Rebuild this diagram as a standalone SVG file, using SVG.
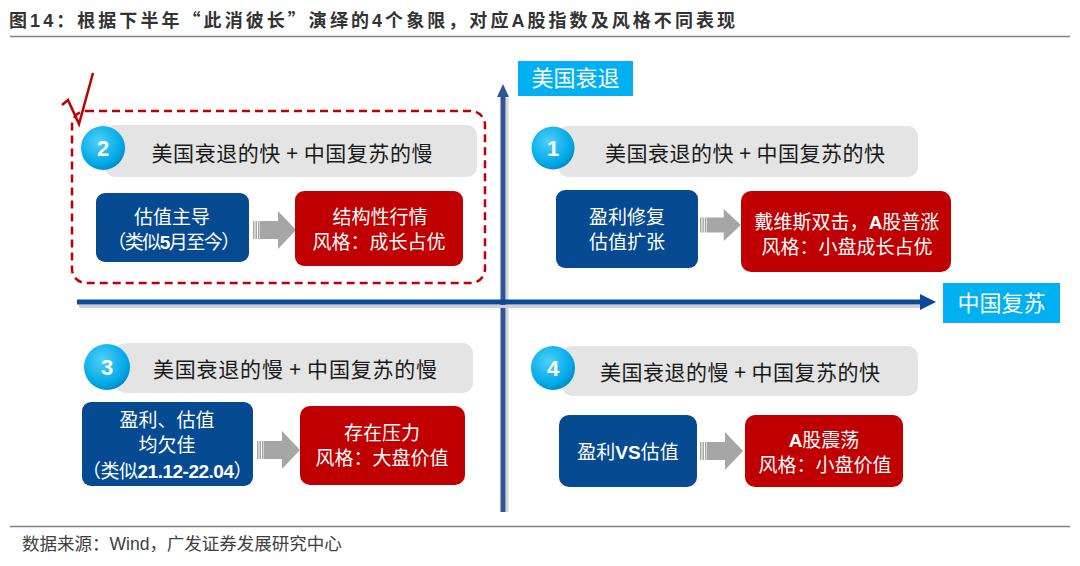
<svg xmlns="http://www.w3.org/2000/svg" xmlns:xlink="http://www.w3.org/1999/xlink" width="1080" height="566" viewBox="0 0 1080 566">
<style>
.t{font-family:"Noto Sans CJK SC","Liberation Sans",sans-serif}
.lat{font-family:"Liberation Sans",sans-serif;font-weight:bold}
.hdr{font-size:21px;fill:#1a1a1a;text-anchor:middle}
.bx{font-size:19px;fill:#ffffff;text-anchor:middle}
.bar{fill:#E4E4E4}
.blue{fill:#064A91}
.red{fill:#C00000}
.num{font-family:"Liberation Sans",sans-serif;font-weight:bold;font-size:22px;fill:#ffffff;text-anchor:middle}
.lbl{fill:#00B0F0}
.lbltxt{font-size:22px;fill:#ffffff;text-anchor:middle}
.garr{fill:#A6A6A6}
</style>
<defs>
<radialGradient id="cg" cx="0.4" cy="0.35" r="0.7">
<stop offset="0" stop-color="#4FD0F8"/>
<stop offset="0.75" stop-color="#00A8E8"/>
<stop offset="1" stop-color="#0086C0"/>
</radialGradient>
<g id="garrow" class="garr">
<rect x="0" y="10" width="1.5" height="18"/>
<rect x="2.5" y="10" width="1.5" height="18"/>
<rect x="5" y="10" width="1.5" height="18"/>
<polygon points="7,10 25,10 25,0 43,19 25,38 25,28 7,28"/>
</g>
</defs>
<rect width="1080" height="566" fill="#ffffff"/>

<!-- title -->
<g id="title">
<text class="t" x="9" y="27" font-size="18" font-weight="bold" fill="#333333" textLength="726" lengthAdjust="spacing">图<tspan class="lat">14</tspan>：根据下半年“此消彼长”演绎的<tspan class="lat">4</tspan>个象限，对应<tspan class="lat">A</tspan>股指数及风格不同表现</text>
<line x1="10" y1="36.5" x2="1070" y2="36.5" stroke="#808080" stroke-width="1.5"/>
</g>

<!-- connectors: axes and gray arrows -->
<g id="connectors">
<line x1="507" y1="98" x2="507" y2="512" stroke="#D6D6D6" stroke-width="3"/>
<line x1="503" y1="95" x2="503" y2="512" stroke="#2F5597" stroke-width="5"/>
<polygon points="503,84 509,97 497,97" fill="#2F5597"/>
<line x1="79" y1="306.5" x2="921" y2="306.5" stroke="#D0D0D0" stroke-width="3"/>
<line x1="77" y1="302" x2="922" y2="302" stroke="#0B4A94" stroke-width="5"/>
<polygon points="936,302 920,294 920,310" fill="#0B4A94"/>
<use xlink:href="#garrow" transform="translate(253,211)"/>
<use xlink:href="#garrow" transform="translate(700,209) scale(0.95,0.84)"/>
<use xlink:href="#garrow" transform="translate(257,431)"/>
<use xlink:href="#garrow" transform="translate(700,432)"/>
</g>

<!-- axis labels -->
<g id="label-us">
<rect class="lbl" x="518" y="61" width="115" height="35"/>
<text class="t lbltxt" x="575.5" y="86">美国衰退</text>
</g>
<g id="label-cn">
<rect class="lbl" x="943" y="283" width="117" height="40"/>
<text class="t lbltxt" x="1001.5" y="311">中国复苏</text>
</g>

<!-- quadrant 2 -->
<g id="q2">
<rect x="72" y="111" width="413" height="172" rx="14" fill="none" stroke="#C00000" stroke-width="2.5" stroke-dasharray="8 5"/>
<polyline points="62,105 68,100 79,124 93,73" fill="none" stroke="#C00000" stroke-width="2.5" stroke-linejoin="miter"/>
<rect class="bar" x="105" y="125" width="372" height="52" rx="10"/>
<circle cx="103" cy="148" r="22" fill="url(#cg)"/>
<text class="num" x="103" y="156">2</text>
<text class="t hdr" x="292" y="161" textLength="281" lengthAdjust="spacing">美国衰退的快 + 中国复苏的慢</text>
</g>
<g id="q2-blue">
<rect class="blue" x="96" y="193" width="153" height="69" rx="9"/>
<text class="t bx" x="172" y="224">估值主导</text>
<text class="t bx" x="173" y="249" font-size="17" letter-spacing="-1.5">（类似<tspan class="lat">5</tspan>月至今）</text>
</g>
<g id="q2-red">
<rect class="red" x="295" y="191" width="168" height="75" rx="9"/>
<text class="t bx" x="380" y="224">结构性行情</text>
<text class="t bx" x="379" y="249">风格：成长占优</text>
</g>

<!-- quadrant 1 -->
<g id="q1">
<rect class="bar" x="558" y="126" width="360" height="51" rx="10"/>
<circle cx="553" cy="148" r="21.5" fill="url(#cg)"/>
<text class="num" x="553" y="156">1</text>
<text class="t hdr" x="745" y="161" textLength="280" lengthAdjust="spacing">美国衰退的快 + 中国复苏的快</text>
</g>
<g id="q1-blue">
<rect class="blue" x="556" y="190" width="142" height="78" rx="9"/>
<text class="t bx" x="627" y="224">盈利修复</text>
<text class="t bx" x="627" y="249">估值扩张</text>
</g>
<g id="q1-red">
<rect class="red" x="741" y="191" width="210" height="81" rx="10"/>
<text class="t bx" x="847" y="229">戴维斯双击，<tspan class="lat">A</tspan>股普涨</text>
<text class="t bx" x="847" y="254">风格：小盘成长占优</text>
</g>

<!-- quadrant 3 -->
<g id="q3">
<rect class="bar" x="115" y="343" width="358" height="50" rx="10"/>
<circle cx="107" cy="367" r="23" fill="url(#cg)"/>
<text class="num" x="107" y="375">3</text>
<text class="t hdr" x="295" y="377" textLength="284" lengthAdjust="spacing">美国衰退的慢 + 中国复苏的慢</text>
</g>
<g id="q3-blue">
<rect class="blue" x="82" y="402" width="171" height="84" rx="9"/>
<text class="t bx" x="167" y="427">盈利、估值</text>
<text class="t bx" x="167" y="452">均欠佳</text>
<text class="t bx" x="167" y="478" font-size="16" letter-spacing="-0.5">（类似<tspan class="lat">21.12-22.04</tspan>）</text>
</g>
<g id="q3-red">
<rect class="red" x="300" y="406" width="165" height="79" rx="10"/>
<text class="t bx" x="382" y="440">存在压力</text>
<text class="t bx" x="382" y="465">风格：大盘价值</text>
</g>

<!-- quadrant 4 -->
<g id="q4">
<rect class="bar" x="562" y="346" width="356" height="50" rx="10"/>
<circle cx="553" cy="368" r="22" fill="url(#cg)"/>
<text class="num" x="553" y="376">4</text>
<text class="t hdr" x="740" y="380" textLength="280" lengthAdjust="spacing">美国衰退的慢 + 中国复苏的快</text>
</g>
<g id="q4-blue">
<rect class="blue" x="559" y="415" width="138" height="72" rx="10"/>
<text class="t bx" x="628" y="459">盈利<tspan class="lat">VS</tspan>估值</text>
</g>
<g id="q4-red">
<rect class="red" x="745" y="415" width="158" height="72" rx="10"/>
<text class="t bx" x="824" y="447"><tspan class="lat">A</tspan>股震荡</text>
<text class="t bx" x="825" y="472">风格：小盘价值</text>
</g>

<!-- footer -->
<g id="footer">
<line x1="10" y1="526.5" x2="1070" y2="526.5" stroke="#808080" stroke-width="1.5"/>
<text class="t" x="22" y="550" font-size="17.5" fill="#404040">数据来源：<tspan font-family="Liberation Sans, sans-serif">Wind</tspan>，广发证券发展研究中心</text>
</g>
</svg>
